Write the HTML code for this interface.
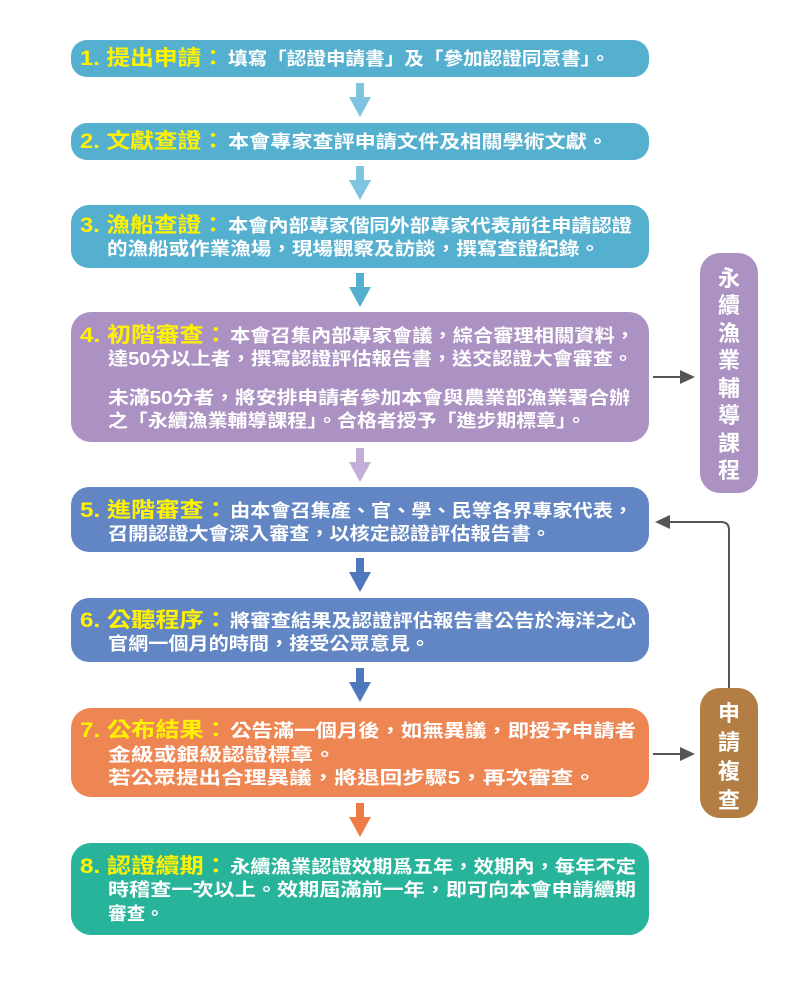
<!DOCTYPE html>
<html><head><meta charset="utf-8"><style>
html,body{margin:0;padding:0;background:#fff;}
svg{display:block;}
text{font-family:"Liberation Sans","Noto Sans CJK TC",sans-serif;font-weight:bold;}
.t{fill:#fff200;font-size:21px;}
.b{fill:#fff;font-size:18px;}
.s{fill:#fff;font-size:22px;}
</style></head><body>
<svg width="800" height="991" viewBox="0 0 800 991" xmlns="http://www.w3.org/2000/svg">
<!-- boxes -->
<rect x="71" y="40" width="578" height="37" rx="16" fill="#55b0cf"/>
<rect x="71" y="123" width="578" height="37" rx="16" fill="#55b0cf"/>
<rect x="71" y="205" width="578" height="63" rx="18" fill="#55b0cf"/>
<rect x="71" y="312" width="578" height="130" rx="20" fill="#ab92c3"/>
<rect x="71" y="487" width="578" height="65" rx="18" fill="#6286c4"/>
<rect x="71" y="598" width="578" height="64" rx="18" fill="#6286c4"/>
<rect x="71" y="708" width="578" height="89" rx="20" fill="#ee8653"/>
<rect x="71" y="843" width="578" height="92" rx="20" fill="#28b49a"/>
<rect x="700" y="253" width="58" height="240" rx="20" fill="#ab92c3"/>
<rect x="700" y="688" width="58" height="130" rx="20" fill="#b27e44"/>
<!-- down arrows -->
<g>
<path d="M356,83 h8 v14 h7 l-11,20 l-11,-20 h7 z" fill="#7fc4de"/>
<path d="M356,166 h8 v14 h7 l-11,20 l-11,-20 h7 z" fill="#7fc4de"/>
<path d="M356,273 h8 v14 h7 l-11,20 l-11,-20 h7 z" fill="#55b0cf"/>
<path d="M356,448 h8 v14 h7 l-11,20 l-11,-20 h7 z" fill="#c3aed8"/>
<path d="M356,558 h8 v14 h7 l-11,20 l-11,-20 h7 z" fill="#4f77bb"/>
<path d="M356,668 h8 v14 h7 l-11,20 l-11,-20 h7 z" fill="#4f77bb"/>
<path d="M356,803 h8 v14 h7 l-11,20 l-11,-20 h7 z" fill="#ee7a45"/>
</g>
<!-- side arrows -->
<line x1="653" y1="377" x2="682" y2="377" stroke="#555" stroke-width="2"/>
<path d="M680,370 L695,377 L680,384 z" fill="#555"/>
<line x1="653" y1="754" x2="682" y2="754" stroke="#555" stroke-width="2"/>
<path d="M680,747 L695,754 L680,761 z" fill="#555"/>
<path d="M729,688 V530 Q729,522 721,522 H668" fill="none" stroke="#555" stroke-width="2"/>
<path d="M670,515 L655,522 L670,529 z" fill="#555"/>
<!-- texts -->
<text x="80" y="65" class="t" textLength="145" lengthAdjust="spacingAndGlyphs">1. 提出申請：</text>
<text x="228" y="65" class="b" textLength="382" lengthAdjust="spacingAndGlyphs">填寫「認證申請書」及「參加認證同意書」。</text>

<text x="80" y="148" class="t" textLength="145" lengthAdjust="spacingAndGlyphs">2. 文獻查證：</text>
<text x="228" y="148" class="b" textLength="380" lengthAdjust="spacingAndGlyphs">本會專家查評申請文件及相關學術文獻。</text>

<text x="80" y="232" class="t" textLength="145" lengthAdjust="spacingAndGlyphs">3. 漁船查證：</text>
<text x="228" y="232" class="b" textLength="404" lengthAdjust="spacingAndGlyphs">本會內部專家偕同外部專家代表前往申請認證</text>
<text x="107" y="255" class="b" textLength="493" lengthAdjust="spacingAndGlyphs">的漁船或作業漁場，現場觀察及訪談，撰寫查證紀錄。</text>

<text x="80" y="342" class="t" textLength="148" lengthAdjust="spacingAndGlyphs">4. 初階審查：</text>
<text x="230" y="342" class="b" textLength="405" lengthAdjust="spacingAndGlyphs">本會召集內部專家會議，綜合審理相關資料，</text>
<text x="108" y="365" class="b" textLength="525" lengthAdjust="spacingAndGlyphs">達50分以上者，撰寫認證評估報告書，送交認證大會審查。</text>
<text x="108" y="404" class="b" textLength="522" lengthAdjust="spacingAndGlyphs">未滿50分者，將安排申請者參加本會與農業部漁業署合辦</text>
<text x="108" y="427" class="b" textLength="478" lengthAdjust="spacingAndGlyphs">之「永續漁業輔導課程」。合格者授予「進步期標章」。</text>

<text x="80" y="517" class="t" textLength="148" lengthAdjust="spacingAndGlyphs">5. 進階審查：</text>
<text x="230" y="517" class="b" textLength="403" lengthAdjust="spacingAndGlyphs">由本會召集產、官、學、民等各界專家代表，</text>
<text x="108" y="540" class="b" textLength="443" lengthAdjust="spacingAndGlyphs">召開認證大會深入審查，以核定認證評估報告書。</text>

<text x="80" y="627" class="t" textLength="148" lengthAdjust="spacingAndGlyphs">6. 公聽程序：</text>
<text x="230" y="627" class="b" textLength="406" lengthAdjust="spacingAndGlyphs">將審查結果及認證評估報告書公告於海洋之心</text>
<text x="108" y="650" class="b" textLength="322" lengthAdjust="spacingAndGlyphs">官網一個月的時間，接受公眾意見。</text>

<text x="80" y="737" class="t" textLength="148" lengthAdjust="spacingAndGlyphs">7. 公布結果：</text>
<text x="230" y="737" class="b" textLength="406" lengthAdjust="spacingAndGlyphs">公告滿一個月後，如無異議，即授予申請者</text>
<text x="108" y="761" class="b" textLength="228" lengthAdjust="spacingAndGlyphs">金級或銀級認證標章。</text>
<text x="108" y="784" class="b" textLength="488" lengthAdjust="spacingAndGlyphs">若公眾提出合理異議，將退回步驟5，再次審查。</text>

<text x="80" y="873" class="t" textLength="148" lengthAdjust="spacingAndGlyphs">8. 認證續期：</text>
<text x="230" y="873" class="b" textLength="406" lengthAdjust="spacingAndGlyphs">永續漁業認證效期爲五年，效期內，每年不定</text>
<text x="108" y="896" class="b" textLength="528" lengthAdjust="spacingAndGlyphs">時稽查一次以上。效期屆滿前一年，即可向本會申請續期</text>
<text x="108" y="920" class="b" textLength="56" lengthAdjust="spacingAndGlyphs">審查。</text>

<g class="s" text-anchor="middle">
<text x="729" y="286" class="s">永</text>
<text x="729" y="313" class="s">續</text>
<text x="729" y="341" class="s">漁</text>
<text x="729" y="368" class="s">業</text>
<text x="729" y="396" class="s">輔</text>
<text x="729" y="423" class="s">導</text>
<text x="729" y="451" class="s">課</text>
<text x="729" y="478" class="s">程</text>
<text x="729" y="721" class="s">申</text>
<text x="729" y="750" class="s">請</text>
<text x="729" y="779" class="s">複</text>
<text x="729" y="808" class="s">查</text>
</g>
</svg>
</body></html>
